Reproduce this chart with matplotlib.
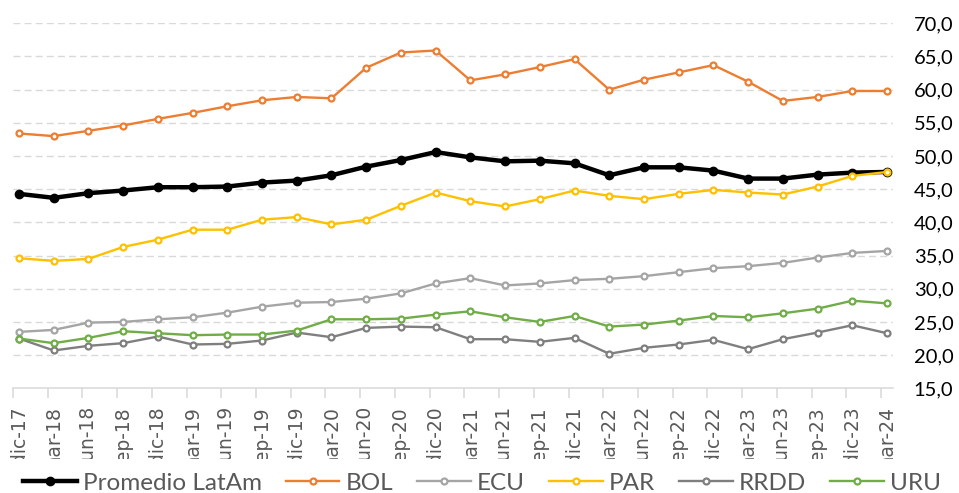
import matplotlib
matplotlib.use("Agg")
import matplotlib.pyplot as plt
from matplotlib.transforms import Bbox
import numpy as np

# quarterly periods, dic-17 .. mar-24
periods = ["dic-17", "mar-18", "jun-18", "sep-18", "dic-18", "mar-19", "jun-19",
           "sep-19", "dic-19", "mar-20", "jun-20", "sep-20", "dic-20", "mar-21",
           "jun-21", "sep-21", "dic-21", "mar-22", "jun-22", "sep-22", "dic-22",
           "mar-23", "jun-23", "sep-23", "dic-23", "mar-24"]

promedio = [44.3, 43.7, 44.4, 44.8, 45.3, 45.3, 45.4, 46.0, 46.3, 47.1, 48.4, 49.4, 50.6,
            49.8, 49.2, 49.3, 48.9, 47.1, 48.3, 48.3, 47.8, 46.6, 46.6, 47.2, 47.5, 47.6]
bol = [53.4, 53.0, 53.8, 54.6, 55.6, 56.5, 57.5, 58.4, 58.9, 58.7, 63.3, 65.6, 65.9,
       61.4, 62.3, 63.4, 64.6, 60.0, 61.5, 62.6, 63.7, 61.2, 58.3, 58.9, 59.8, 59.8]
ecu = [23.5, 23.8, 24.9, 25.0, 25.4, 25.7, 26.4, 27.3, 27.9, 28.0, 28.5, 29.3, 30.8,
       31.6, 30.5, 30.8, 31.3, 31.5, 31.9, 32.5, 33.1, 33.4, 33.9, 34.7, 35.4, 35.7]
par = [34.6, 34.2, 34.5, 36.3, 37.4, 38.9, 38.9, 40.4, 40.8, 39.7, 40.4, 42.5, 44.5,
       43.2, 42.4, 43.5, 44.8, 44.0, 43.5, 44.3, 44.9, 44.5, 44.2, 45.4, 47.0, 47.6]
rrdd = [22.5, 20.7, 21.4, 21.8, 22.8, 21.6, 21.7, 22.2, 23.4, 22.7, 24.1, 24.3, 24.2,
        22.4, 22.4, 22.0, 22.6, 20.2, 21.1, 21.6, 22.3, 20.9, 22.4, 23.4, 24.5, 23.3]
uru = [22.5, 21.8, 22.6, 23.6, 23.3, 23.0, 23.1, 23.1, 23.7, 25.4, 25.4, 25.5, 26.1,
       26.6, 25.7, 25.0, 25.9, 24.3, 24.6, 25.2, 25.9, 25.7, 26.3, 27.0, 28.2, 27.8]

y_ticks = [15, 20, 25, 30, 35, 40, 45, 50, 55, 60, 65, 70]

fig = plt.figure(figsize=(9.59, 4.93), dpi=100)
ax = fig.add_axes([13 / 959, 1 - 388.3 / 493, 880 / 959, 365 / 493])

x = np.arange(len(periods))

ax.plot(x, promedio, color="black", lw=3.2, marker="o", ms=6, mfc="black", mec="black",
        label="Promedio LatAm", zorder=3)
others = [(bol, "BOL", "#ED7D31"), (ecu, "ECU", "#A5A5A5"), (par, "PAR", "#FFC000"),
          (rrdd, "RRDD", "#7F7F7F"), (uru, "URU", "#70AD47")]
for vals, name, col in others:
    ax.plot(x, vals, color=col, lw=1.7, marker="o", ms=4.3, mfc="white", mec=col,
            mew=1.6, label=name, zorder=3)

ax.set_xlim(-0.173, len(periods) - 1 + 0.173)
ax.set_ylim(15, 70)

# y axis on the right
ax.yaxis.tick_right()
ax.set_yticks(y_ticks)
ax.set_yticklabels(["{:.1f}".format(v).replace(".", ",") for v in y_ticks],
                   fontfamily="Lato", fontsize=14.5, color="black")
ax.tick_params(axis="y", length=0, pad=15)
for v in y_ticks[1:]:
    ax.axhline(v, color="#D9D9D9", lw=1, ls=(0, (5, 3)), zorder=1)

# x axis: labels at points, tick marks slightly to the left
ax.set_xticks(x)
ax.set_xticklabels(periods, rotation=90, fontfamily="DejaVu Sans", fontsize=13.5,
                   color="#595959", ha="center", va="top")
ax.tick_params(axis="x", which="major", length=0, pad=13)
ax.set_xticks(x - 0.173, minor=True)
ax.tick_params(axis="x", which="minor", length=7, width=1.1, color="#D9D9D9")

clip = Bbox.from_extents(0, 34, 959, 493)
for lbl in ax.get_xticklabels():
    lbl.set_clip_box(clip)
    lbl.set_clip_on(True)

for s in ["left", "top", "right"]:
    ax.spines[s].set_visible(False)
ax.spines["bottom"].set_color("#D9D9D9")
ax.spines["bottom"].set_linewidth(1.1)

ax.legend(loc="center", bbox_to_anchor=(482 / 959, 10 / 493),
          bbox_transform=fig.transFigure, ncol=6, frameon=False,
          prop={"family": "Lato", "size": 17.5}, labelcolor="#595959",
          handlelength=2.2, handletextpad=0.25, columnspacing=1.0, borderpad=0)

fig.savefig("out.png", dpi=100)
